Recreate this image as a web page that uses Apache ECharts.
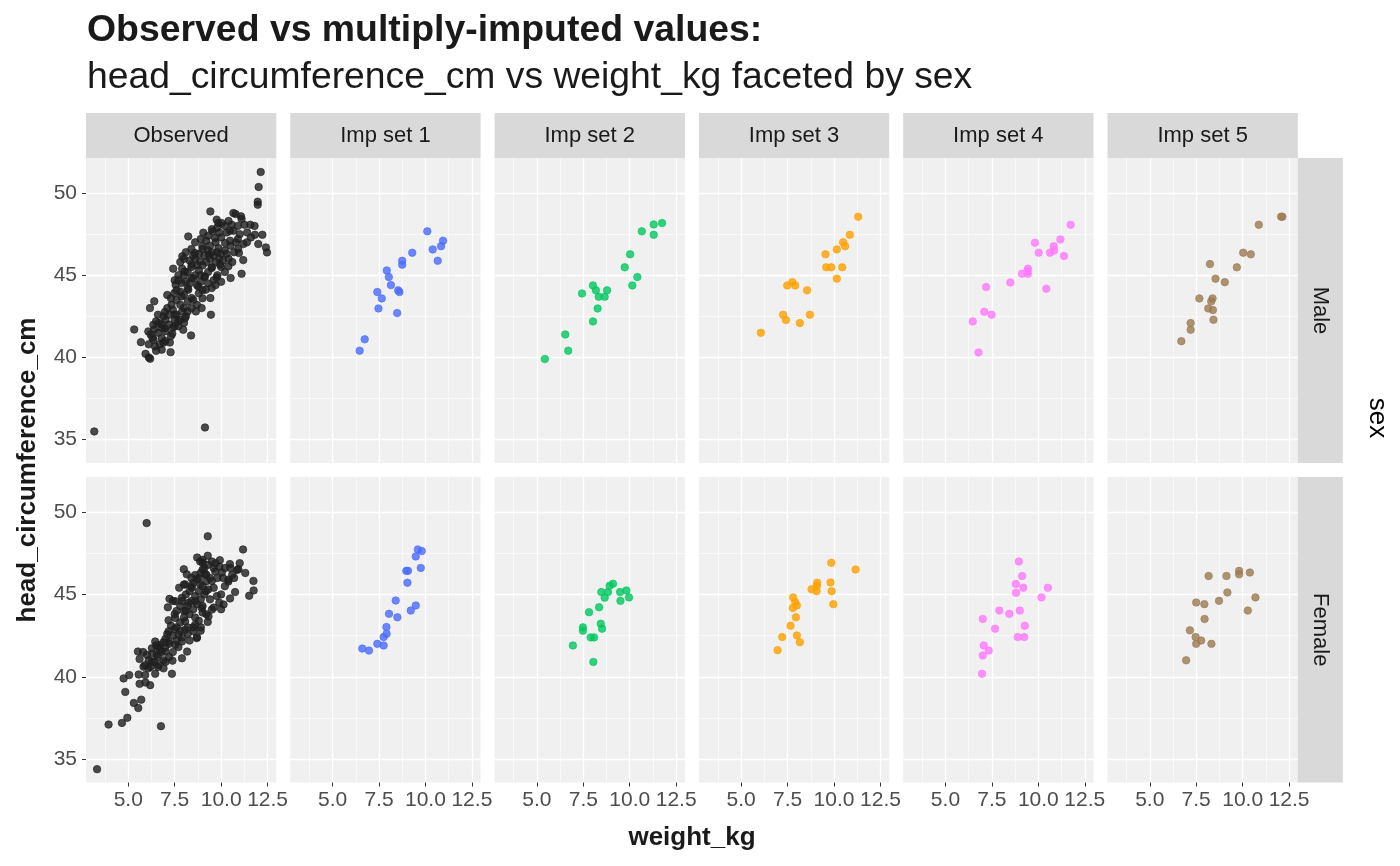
<!DOCTYPE html>
<html><head><meta charset="utf-8">
<script src="https://cdn.jsdelivr.net/npm/echarts@6/dist/echarts.min.js"></script>
<style>html,body{margin:0;padding:0;background:#fff}#c{width:1400px;height:866px}</style>
</head><body><div id="c"></div>
<script>
const panels = ['Observed', 'Imp set 1', 'Imp set 2', 'Imp set 3', 'Imp set 4', 'Imp set 5'];
const sexes = ['Male', 'Female'];
const xTicks = [5, 7.5, 10, 12.5];
const xMinor = [3.75, 6.25, 8.75, 11.25];
const yTicks = [35, 40, 45, 50];
const yMinor = [37.5, 42.5, 47.5];
const xRange = [2.725, 12.97];
const yRange = [33.58, 52.13];
const seriesColors = ['#1f1f1f', '#4a6cff', '#00c860', '#ffa000', '#ff78ff', '#9c7a52'];

const obsMale = [
[12.13,51.28],[12.02,50.37],[11.97,49.47],[11.97,49.29],[9.42,48.88],[10.66,48.78],[10.78,48.72],[11.07,48.58],[11.10,48.42],[9.76,48.38],[9.85,48.17],[10.03,48.17],[10.57,48.07],[11.25,48.07],[11.57,48.07],[8.23,47.36],[9.04,47.59],[9.54,47.67],[9.67,47.26],[10.48,47.71],[10.66,47.71],[11.82,47.46],[12.22,47.46],[11.39,47.00],[12.41,46.69],[12.47,46.39],[8.99,46.77],[10.21,46.96],[10.48,47.10],[10.92,46.61],[10.96,46.35],[11.19,45.92],[7.91,46.15],[8.59,46.35],[9.34,46.25],[9.85,46.65],[7.42,45.40],[8.05,45.23],[8.41,45.64],[8.86,45.84],[9.49,45.44],[9.94,45.64],[10.39,45.54],[11.10,45.09],[10.51,44.83],[9.76,44.87],[9.13,44.93],[8.41,44.83],[7.55,44.42],[7.87,44.52],[8.23,44.12],[8.77,44.32],[9.49,44.22],[9.17,44.12],[9.42,43.61],[7.48,43.91],[7.87,43.71],[8.41,43.61],[8.95,43.00],[8.64,42.80],[9.45,42.60],[6.40,43.41],[6.17,43.00],[6.97,42.76],[7.33,43.20],[7.51,42.60],[7.69,42.19],[8.05,42.39],[7.96,41.68],[8.38,41.34],[5.32,41.70],[6.08,41.58],[6.35,41.99],[6.65,42.09],[6.97,41.78],[7.37,41.44],[5.68,40.93],[6.36,41.07],[6.80,41.18],[7.24,40.91],[5.93,40.22],[6.18,39.92],[6.44,40.67],[6.80,40.47],[7.28,40.32],[6.11,40.00],[3.17,35.50],[9.13,35.74],
[8.0,45.0],[8.2,45.2],[8.4,45.5],[8.6,45.0],[8.8,45.3],[9.0,45.6],[9.2,45.8],[9.4,46.0],[9.6,46.2],[9.8,46.4],[10.0,46.3],[10.2,46.5],[10.4,46.0],[10.6,45.8],[8.3,44.5],[8.5,44.8],[8.7,44.4],[8.9,44.6],[9.1,44.9],[9.3,45.2],[9.5,45.5],[7.8,44.0],[8.0,43.8],[8.2,44.2],[7.6,43.5],[7.8,43.2],[8.0,43.0],[8.2,43.4],[7.4,42.9],[7.6,42.6],[7.8,42.3],[7.2,42.0],[7.4,41.8],[7.0,42.3],[6.8,41.8],[6.6,41.5],[6.4,41.7],[6.2,41.4],[6.5,42.2],[6.9,42.5],[7.1,43.0],[8.6,46.0],[8.8,46.3],[9.0,46.6],[9.4,46.8],[9.7,47.0],[10.0,47.3],[10.3,47.6],[10.0,45.5],[9.8,45.0],[9.6,44.7],[10.2,45.2],[10.5,46.8],[10.8,47.0],[11.0,47.5],[9.3,47.4],[9.5,47.8],[9.9,47.6],[10.2,48.0],[8.5,43.5],[8.8,43.9],[9.0,44.1],[7.9,42.8],[8.1,42.5],[7.5,41.9],[7.3,41.3],[7.0,41.0],[6.7,40.8],[8.4,46.6],[8.0,46.0],[7.7,45.0],[7.5,44.7],
[7.7,44.7],[7.9,45.4],[8.1,44.6],[8.3,45.9],[8.5,46.2],[8.7,45.6],[8.9,45.0],[9.1,46.2],[9.3,46.5],[9.5,46.4],[9.7,45.8],[9.9,46.0],[10.1,45.9],[10.3,46.3],[10.7,46.4],[10.9,47.2],[11.2,46.9],[11.4,47.6],[10.0,44.6],[9.7,44.4],[9.3,44.5],[9.0,43.6],[8.7,43.2],[8.4,43.0],[8.2,42.8],[8.0,42.1],[7.7,41.9],[7.5,42.3],[7.2,42.6],[7.0,41.6],[6.8,42.0],[6.6,42.6],[6.3,41.2],[6.1,40.8],[6.5,40.4],[6.9,40.9],[7.6,44.1],[7.3,43.6],[7.1,43.8],[8.6,47.0],[8.9,47.2],[9.2,47.1],[9.8,47.9],[10.4,48.3],[10.9,48.0],[11.6,47.3],[11.8,48.0],[12.0,46.9],[8.1,46.4],[7.8,45.8]
];
const obsFemale = [
[5.99,49.33],[9.28,48.53],[11.18,47.73],[8.71,47.24],[9.28,47.35],[8.87,47.00],[9.00,46.94],[9.93,47.08],[10.47,46.84],[10.86,46.49],[10.93,46.53],[7.99,46.53],[8.15,46.22],[9.68,46.39],[10.04,46.33],[11.74,45.82],[11.75,45.24],[11.51,44.92],[10.39,45.78],[10.75,45.14],[10.48,44.76],[10.13,44.39],[8.60,46.18],[9.14,46.22],[9.50,45.82],[7.74,45.41],[8.06,45.61],[8.42,45.41],[8.87,45.61],[9.18,45.20],[9.77,44.90],[7.22,44.73],[7.13,44.22],[7.53,44.59],[7.89,44.80],[8.24,44.49],[8.60,44.59],[8.96,44.18],[9.50,44.08],[9.32,43.67],[9.28,43.33],[8.91,43.00],[7.17,43.43],[7.53,43.57],[8.06,43.37],[8.60,43.16],[8.51,42.76],[8.69,42.35],[8.06,42.86],[7.71,42.55],[7.17,42.76],[7.17,42.14],[7.53,41.94],[7.89,42.14],[8.17,41.53],[7.89,41.12],[7.38,40.98],[6.45,42.14],[6.72,41.94],[6.27,41.73],[5.52,41.53],[5.61,41.08],[6.00,41.33],[6.27,40.92],[6.63,40.71],[6.90,40.51],[7.35,40.18],[5.56,40.14],[5.91,40.10],[6.18,39.49],[5.93,39.65],[5.61,39.57],[6.45,40.18],[4.75,39.90],[5.05,40.10],[4.84,39.08],[5.30,38.41],[5.70,38.61],[5.54,38.10],[4.95,37.51],[4.66,37.20],[3.94,37.10],[6.76,37.00],[3.32,34.39],[6.54,41.33],[6.99,41.53],[5.82,40.61],[6.09,40.51],
[8.0,44.0],[8.2,44.3],[8.4,44.6],[8.6,44.9],[8.8,45.2],[9.0,45.5],[9.2,45.8],[9.4,46.0],[8.3,43.8],[8.5,44.1],[8.7,44.4],[8.9,44.7],[9.1,45.0],[9.3,45.3],[7.6,43.0],[7.8,43.3],[8.0,43.6],[8.2,43.0],[7.4,42.5],[7.6,42.2],[7.8,42.8],[7.2,42.0],[7.0,41.8],[6.8,41.5],[6.6,41.2],[6.4,40.9],[6.2,40.6],[7.4,41.5],[7.0,42.3],[8.8,46.0],[9.0,46.5],[9.6,46.6],[9.8,46.0],[9.6,45.4],[10.2,45.5],[10.0,45.0],[9.9,44.5],[8.4,45.5],[8.1,45.0],[7.8,44.3],[7.5,43.8],[8.6,43.6],[9.0,43.9],[8.9,42.8],[8.3,42.2],[9.2,46.2],[9.5,47.0],[10.2,46.6],[10.6,46.2],[6.9,41.0],[6.6,41.8],
[7.9,44.6],[8.1,44.0],[8.3,45.2],[8.5,45.7],[8.7,45.9],[8.9,46.3],[9.1,46.6],[9.3,46.8],[9.7,46.9],[9.9,46.7],[10.1,46.0],[10.4,45.9],[10.7,46.0],[11.0,46.9],[11.3,46.3],[9.4,44.7],[9.6,44.2],[9.2,43.8],[8.8,43.4],[8.5,43.0],[8.2,42.6],[7.9,42.4],[7.7,41.8],[7.5,42.9],[7.3,43.1],[7.1,42.6],[6.9,42.1],[6.7,41.6],[6.5,41.9],[6.3,41.4],[6.1,41.0],[5.9,40.7],[5.8,41.5],[6.6,40.6],[7.0,40.9],[7.6,44.0],[7.4,44.6],[8.0,45.6],[8.4,46.0],[9.0,47.1],[10.5,46.6],[10.0,44.1],[9.0,44.3],[8.7,42.4],[7.2,41.2]
];
const imp1Male = [[10.10,47.67],[10.95,47.10],[10.84,46.77],[10.39,46.57],[10.66,45.88],[9.29,46.37],[8.75,45.88],[8.75,45.64],[7.92,45.29],[8.03,44.89],[8.14,44.40],[8.53,44.08],[8.60,43.98],[7.41,43.98],[7.65,43.59],[7.47,42.98],[8.48,42.70],[6.73,41.10],[6.46,40.41]];
const imp1Female = [[9.59,47.73],[9.80,47.63],[9.48,47.31],[9.75,46.61],[8.97,46.43],[9.06,46.43],[9.03,45.71],[8.40,44.63],[9.48,44.33],[9.21,44.02],[8.04,43.82],[8.49,43.61],[7.90,43.02],[7.91,42.61],[7.75,42.41],[7.41,42.00],[7.75,41.90],[6.60,41.71],[6.96,41.59]];
const imp2Male = [[11.74,48.17],[11.29,48.09],[11.29,47.46],[10.65,47.67],[10.02,46.27],[9.73,45.48],[10.41,44.89],[10.14,44.38],[8.02,44.38],[8.18,44.08],[8.78,44.08],[8.33,43.69],[8.65,43.69],[7.43,43.89],[8.27,42.98],[8.02,42.19],[6.53,41.40],[6.69,40.41],[5.43,39.90]];
const imp2Female = [[9.10,45.65],[8.92,45.53],[8.47,45.14],[8.83,45.14],[8.65,44.80],[9.48,45.14],[9.82,45.24],[9.96,44.82],[9.50,44.61],[8.35,44.22],[7.81,43.92],[7.48,43.00],[7.48,42.80],[8.44,43.22],[8.51,42.92],[7.90,42.39],[8.08,42.39],[6.94,41.90],[8.04,40.90]];
const imp3Male = [[11.30,48.56],[10.85,47.46],[10.49,47.00],[10.60,46.77],[10.15,46.57],[9.54,46.27],[9.58,45.48],[9.85,45.48],[10.44,45.48],[10.15,44.79],[7.76,44.58],[7.48,44.38],[7.91,44.38],[8.55,44.08],[7.26,42.60],[7.41,42.27],[8.70,42.60],[8.16,42.09],[6.06,41.50]];
const imp3Female = [[9.85,46.92],[11.16,46.51],[9.09,45.71],[9.81,45.73],[8.79,45.31],[9.06,45.20],[9.08,45.51],[9.87,45.20],[9.96,44.41],[7.80,44.82],[7.91,44.53],[8.00,44.33],[7.78,44.18],[7.95,43.61],[7.66,43.10],[7.21,42.41],[8.00,42.51],[8.16,42.10],[6.96,41.61]];
const imp4Male = [[11.74,48.07],[11.19,47.18],[9.82,46.98],[10.83,46.77],[10.02,46.37],[10.63,46.37],[10.85,46.51],[11.38,46.17],[9.44,45.40],[9.41,45.23],[9.12,45.09],[9.44,45.09],[8.49,44.56],[7.19,44.28],[10.43,44.18],[7.09,42.78],[7.48,42.60],[6.47,42.19],[6.78,40.30]];
const imp4Female = [[8.95,47.00],[9.13,46.12],[8.79,45.63],[9.19,45.41],[8.80,45.10],[10.51,45.41],[10.17,44.82],[7.90,44.02],[8.44,43.82],[9.00,44.02],[7.01,43.51],[7.67,42.92],[9.27,43.10],[8.89,42.41],[9.24,42.41],[7.06,41.90],[7.33,41.59],[7.01,41.29],[6.97,40.18]];
const imp5Male = [[12.07,48.56],[12.14,48.56],[10.87,48.07],[10.03,46.37],[10.44,46.27],[9.69,45.48],[8.24,45.68],[8.54,44.79],[9.04,44.58],[7.67,43.59],[8.38,43.59],[8.31,43.41],[8.15,42.98],[8.40,42.88],[8.43,42.29],[7.20,42.09],[7.20,41.68],[6.70,40.99]];
const imp5Female = [[9.81,46.43],[9.81,46.22],[10.39,46.33],[8.17,46.12],[9.13,46.12],[9.18,45.12],[10.69,44.82],[8.73,44.61],[7.50,44.51],[7.94,44.41],[10.28,44.02],[7.95,43.51],[7.16,42.82],[7.47,42.41],[7.77,42.20],[7.50,42.00],[8.32,42.00],[6.96,41.00]];

const maleSets = [obsMale, imp1Male, imp2Male, imp3Male, imp4Male, imp5Male];
const femaleSets = [obsFemale, imp1Female, imp2Female, imp3Female, imp4Female, imp5Female];

const FONT = 'Liberation Sans, Arial, sans-serif';
const PL = 86, PW = 190.3, PSTEP = 204.3;
const rowTop = [158, 477], PH = [305, 305.5];

const grids = [], xAxes = [], yAxes = [], series = [], graphics = [];
for (let r = 0; r < 2; r++) {
  for (let c = 0; c < 6; c++) {
    const i = r * 6 + c;
    const bottom = r === 1, leftCol = c === 0;
    grids.push({left: PL + c * PSTEP, top: rowTop[r], width: PW, height: PH[r], show: true,
      backgroundColor: '#F0F0F0', borderWidth: 0, outerBoundsMode: 'none', containLabel: false});
    xAxes.push({gridIndex: i, type: 'value', min: xRange[0], max: xRange[1], position: 'bottom',
      axisLine: {show: false},
      axisTick: {show: bottom, length: 4, customValues: xTicks, lineStyle: {color: '#333333', width: 1}},
      axisLabel: {show: bottom, customValues: xTicks, formatter: v => v.toFixed(1), fontSize: 21,
        color: '#4D4D4D', margin: 7, fontFamily: FONT, hideOverlap: false},
      splitLine: {show: true, lineStyle: {color: '#FFFFFF', width: 1.3}}});
    xAxes.push({gridIndex: i, type: 'value', min: xRange[0], max: xRange[1], position: 'bottom',
      axisLine: {show: false}, axisTick: {show: false, customValues: xMinor},
      axisLabel: {show: false, customValues: xMinor},
      splitLine: {show: true, lineStyle: {color: '#FFFFFF', width: 0.6}}});
    yAxes.push({gridIndex: i, type: 'value', min: yRange[0], max: yRange[1], position: 'left',
      axisLine: {show: false},
      axisTick: {show: leftCol, length: 4, customValues: yTicks, lineStyle: {color: '#333333', width: 1}},
      axisLabel: {show: leftCol, customValues: yTicks, fontSize: 21, color: '#4D4D4D', margin: 9, fontFamily: FONT},
      splitLine: {show: true, lineStyle: {color: '#FFFFFF', width: 1.3}}});
    yAxes.push({gridIndex: i, type: 'value', min: yRange[0], max: yRange[1], position: 'left',
      axisLine: {show: false}, axisTick: {show: false, customValues: yMinor},
      axisLabel: {show: false, customValues: yMinor},
      splitLine: {show: true, lineStyle: {color: '#FFFFFF', width: 0.6}}});
    const col = seriesColors[c];
    series.push({type: 'scatter', name: panels[c] + ' ' + sexes[r], xAxisIndex: 2 * i, yAxisIndex: 2 * i,
      data: (r === 0 ? maleSets : femaleSets)[c], symbol: 'circle', symbolSize: 7.5, silent: true,
      itemStyle: {color: col, opacity: 0.8, borderColor: col, borderWidth: 0.8}});
  }
}
// top strips
for (let c = 0; c < 6; c++) {
  const x = PL + c * PSTEP;
  graphics.push({type: 'rect', shape: {x: x, y: 113, width: PW, height: 45}, style: {fill: '#D9D9D9'}, silent: true});
  graphics.push({type: 'text', x: x + PW / 2, y: 136, style: {text: panels[c], fill: '#1A1A1A',
    font: '22px ' + FONT, align: 'center', verticalAlign: 'middle'}, silent: true});
}
// right strips
for (let r = 0; r < 2; r++) {
  graphics.push({type: 'rect', shape: {x: PL + 5 * PSTEP + PW, y: rowTop[r], width: 45, height: PH[r]}, style: {fill: '#D9D9D9'}, silent: true});
  graphics.push({type: 'text', x: PL + 5 * PSTEP + PW + 22.5, y: rowTop[r] + PH[r] / 2, rotation: -Math.PI / 2,
    style: {text: sexes[r], fill: '#1A1A1A', font: '22px ' + FONT, align: 'center', verticalAlign: 'middle'}, silent: true});
}
graphics.push({type: 'text', x: 1377, y: 418, rotation: -Math.PI / 2,
  style: {text: 'sex', fill: '#000000', font: '26px ' + FONT, align: 'center', verticalAlign: 'middle'}});
graphics.push({type: 'text', x: 87, y: 31, style: {text: 'Observed vs multiply-imputed values:', fill: '#1A1A1A',
  font: 'bold 37.4px ' + FONT, align: 'left', verticalAlign: 'middle'}});
graphics.push({type: 'text', x: 87, y: 78, style: {text: 'head_circumference_cm vs weight_kg faceted by sex', fill: '#1A1A1A',
  font: '37.3px ' + FONT, align: 'left', verticalAlign: 'middle'}});
graphics.push({type: 'text', x: 28, y: 470, rotation: Math.PI / 2,
  style: {text: 'head_circumference_cm', fill: '#1A1A1A', font: 'bold 26px ' + FONT, align: 'center', verticalAlign: 'middle'}});
graphics.push({type: 'text', x: 692, y: 838,
  style: {text: 'weight_kg', fill: '#1A1A1A', font: 'bold 26px ' + FONT, align: 'center', verticalAlign: 'middle'}});

const chart = echarts.init(document.getElementById('c'), null, {renderer: 'canvas'});
chart.setOption({animation: false, backgroundColor: '#FFFFFF', grid: grids, xAxis: xAxes, yAxis: yAxes,
  series: series, graphic: graphics});
</script></body></html>
